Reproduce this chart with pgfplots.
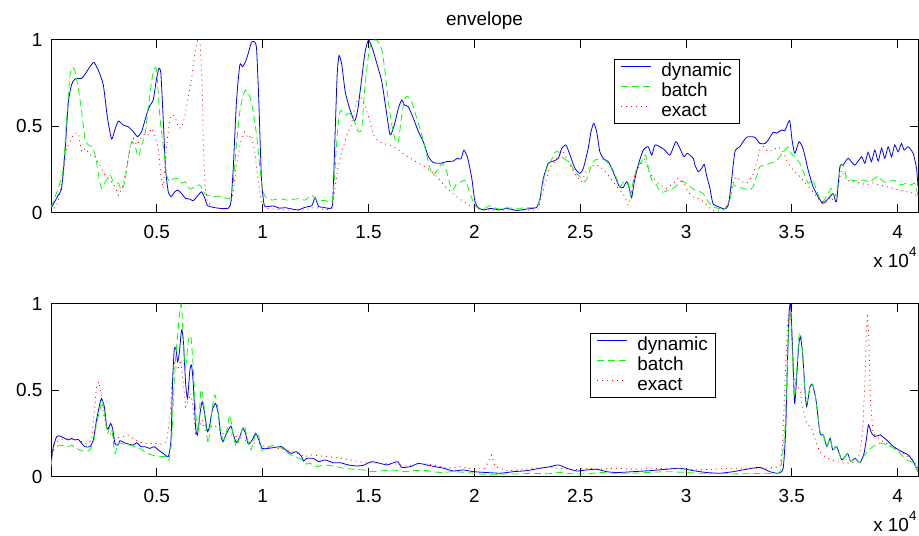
\documentclass[border=0pt]{standalone}
\usepackage{pgfplots}
\pgfplotsset{compat=1.18}
\usepackage{fontspec}
\setmainfont{Liberation Sans}
\newcommand{\fs}{\fontsize{19}{22}\selectfont}

\pgfplotstableread{
x y
0 0.024
0.034 0.10
0.05 0.14
0.066 0.35
0.082 0.64
0.097 0.74
0.113 0.774
0.145 0.778
0.16 0.80
0.184 0.845
0.203 0.87
0.223 0.826
0.247 0.74
0.267 0.546
0.286 0.426
0.299 0.468
0.318 0.53
0.341 0.507
0.365 0.497
0.389 0.468
0.409 0.44
0.428 0.468
0.451 0.565
0.467 0.62
0.483 0.652
0.499 0.778
0.51 0.836
0.519 0.807
0.53 0.546
0.541 0.256
0.554 0.12
0.567 0.092
0.585 0.12
0.60 0.13
0.617 0.11
0.636 0.082
0.656 0.078
0.672 0.068
0.695 0.10
0.711 0.12
0.727 0.082
0.739 0.04
0.766 0.03
0.798 0.024
0.837 0.024
0.85 0.063
0.861 0.256
0.876 0.64
0.892 0.855
0.905 0.845
0.919 0.874
0.932 0.923
0.947 0.987
0.96 0.99
0.971 0.952
0.982 0.64
0.994 0.20
1.007 0.043
1.023 0.034
1.05 0.038
1.08 0.025
1.106 0.028
1.14 0.02
1.169 0.015
1.2 0.03
1.232 0.04
1.248 0.086
1.264 0.035
1.287 0.03
1.319 0.024
1.331 0.06
1.342 0.45
1.352 0.80
1.361 0.91
1.374 0.855
1.39 0.70
1.413 0.594
1.434 0.53
1.449 0.594
1.468 0.778
1.484 0.932
1.5 1.0
1.518 0.952
1.539 0.865
1.563 0.758
1.582 0.604
1.602 0.45
1.622 0.507
1.641 0.604
1.657 0.652
1.67 0.623
1.688 0.613
1.712 0.546
1.736 0.468
1.759 0.41
1.783 0.323
1.806 0.29
1.838 0.285
1.87 0.295
1.9 0.298
1.92 0.314
1.937 0.31
1.951 0.362
1.969 0.314
1.988 0.198
2.003 0.063
2.022 0.024
2.05 0.015
2.074 0.024
2.121 0.015
2.153 0.024
2.2 0.012
2.247 0.02
2.295 0.03
2.31 0.082
2.326 0.198
2.349 0.285
2.373 0.298
2.397 0.314
2.413 0.372
2.433 0.391
2.452 0.333
2.475 0.256
2.499 0.227
2.515 0.256
2.538 0.372
2.551 0.468
2.564 0.517
2.578 0.468
2.593 0.352
2.612 0.31
2.633 0.295
2.656 0.236
2.685 0.15
2.703 0.145
2.72 0.179
2.732 0.14
2.743 0.086
2.756 0.179
2.774 0.275
2.798 0.362
2.821 0.381
2.838 0.333
2.853 0.391
2.877 0.381
2.90 0.362
2.924 0.333
2.952 0.41
2.971 0.372
2.99 0.323
3.006 0.343
3.034 0.314
3.042 0.275
3.058 0.236
3.074 0.256
3.086 0.279
3.097 0.217
3.113 0.14
3.128 0.05
3.16 0.03
3.184 0.02
3.2 0.043
3.212 0.15
3.231 0.352
3.254 0.381
3.286 0.436
3.325 0.436
3.349 0.40
3.373 0.40
3.388 0.42
3.412 0.465
3.428 0.46
3.451 0.478
3.467 0.474
3.478 0.507
3.49 0.532
3.501 0.42
3.514 0.343
3.534 0.41
3.553 0.37
3.577 0.246
3.60 0.15
3.624 0.092
3.645 0.053
3.664 0.07
3.68 0.092
3.695 0.11
3.711 0.062
3.727 0.266
3.742 0.275
3.766 0.314
3.797 0.275
3.829 0.323
3.845 0.285
3.86 0.349
3.876 0.295
3.892 0.362
3.908 0.298
3.924 0.372
3.939 0.314
3.955 0.381
3.971 0.323
3.986 0.391
4.002 0.352
4.018 0.40
4.03 0.362
4.049 0.381
4.073 0.343
4.089 0.256
4.096 0.15
}\topdyn

\pgfplotstableread{
x y
0 0.03
0.034 0.14
0.058 0.256
0.074 0.546
0.09 0.80
0.102 0.842
0.113 0.82
0.129 0.72
0.145 0.584
0.16 0.43
0.176 0.391
0.195 0.381
0.212 0.314
0.227 0.198
0.239 0.14
0.258 0.179
0.279 0.217
0.294 0.179
0.318 0.17
0.333 0.13
0.349 0.179
0.365 0.314
0.381 0.41
0.40 0.372
0.412 0.323
0.428 0.391
0.444 0.45
0.459 0.604
0.475 0.758
0.488 0.836
0.499 0.82
0.515 0.546
0.53 0.391
0.546 0.217
0.562 0.179
0.582 0.198
0.60 0.195
0.617 0.17
0.633 0.179
0.656 0.136
0.68 0.15
0.703 0.16
0.727 0.11
0.758 0.092
0.79 0.095
0.813 0.088
0.845 0.082
0.861 0.179
0.876 0.391
0.892 0.584
0.908 0.681
0.919 0.71
0.94 0.67
0.955 0.584
0.971 0.45
0.987 0.256
1.002 0.12
1.018 0.085
1.043 0.072
1.083 0.08
1.114 0.072
1.169 0.08
1.2 0.072
1.232 0.10
1.256 0.072
1.295 0.07
1.327 0.063
1.339 0.198
1.352 0.45
1.366 0.59
1.39 0.565
1.413 0.575
1.434 0.526
1.452 0.468
1.468 0.49
1.484 0.74
1.5 0.913
1.515 0.99
1.539 1.0
1.563 0.942
1.578 0.816
1.594 0.642
1.61 0.507
1.629 0.41
1.641 0.41
1.657 0.565
1.673 0.666
1.688 0.67
1.704 0.642
1.728 0.546
1.752 0.45
1.775 0.333
1.79 0.256
1.806 0.217
1.83 0.256
1.851 0.285
1.87 0.236
1.885 0.16
1.9 0.13
1.917 0.17
1.94 0.179
1.956 0.188
1.972 0.14
1.988 0.082
2.011 0.03
2.05 0.024
2.074 0.04
2.113 0.02
2.153 0.027
2.2 0.024
2.247 0.027
2.287 0.03
2.307 0.063
2.326 0.179
2.342 0.256
2.361 0.295
2.381 0.349
2.397 0.352
2.413 0.323
2.433 0.304
2.452 0.285
2.475 0.236
2.499 0.207
2.523 0.179
2.538 0.217
2.554 0.275
2.57 0.304
2.593 0.31
2.617 0.304
2.64 0.275
2.656 0.246
2.672 0.198
2.688 0.15
2.707 0.179
2.727 0.17
2.738 0.10
2.75 0.179
2.767 0.256
2.79 0.295
2.809 0.333
2.821 0.266
2.838 0.188
2.861 0.16
2.877 0.12
2.90 0.12
2.924 0.136
2.948 0.145
2.971 0.179
2.995 0.175
3.018 0.15
3.042 0.13
3.066 0.12
3.081 0.11
3.105 0.063
3.126 0.034
3.152 0.024
3.184 0.024
3.207 0.07
3.223 0.16
3.239 0.15
3.27 0.14
3.30 0.13
3.317 0.15
3.333 0.208
3.349 0.266
3.373 0.275
3.396 0.285
3.42 0.295
3.443 0.323
3.467 0.36
3.482 0.38
3.498 0.34
3.514 0.323
3.538 0.285
3.557 0.227
3.577 0.17
3.6 0.188
3.616 0.13
3.632 0.082
3.648 0.063
3.671 0.11
3.687 0.14
3.703 0.092
3.718 0.16
3.73 0.266
3.742 0.275
3.758 0.208
3.781 0.188
3.805 0.184
3.836 0.188
3.868 0.178
3.892 0.198
3.907 0.21
3.923 0.188
3.946 0.174
3.978 0.188
3.994 0.178
4.018 0.16
4.041 0.17
4.065 0.16
4.081 0.17
4.096 0.093
}\topbat

\pgfplotstableread{
x y
0 0.0
0.034 0.06
0.058 0.217
0.074 0.372
0.09 0.41
0.11 0.459
0.129 0.459
0.145 0.352
0.164 0.372
0.184 0.333
0.208 0.323
0.231 0.275
0.255 0.217
0.279 0.188
0.302 0.15
0.318 0.10
0.337 0.14
0.357 0.256
0.373 0.372
0.389 0.43
0.405 0.391
0.425 0.43
0.444 0.459
0.459 0.45
0.475 0.488
0.49 0.45
0.507 0.372
0.519 0.217
0.53 0.14
0.546 0.391
0.562 0.546
0.573 0.565
0.585 0.56
0.60 0.497
0.617 0.488
0.63 0.546
0.648 0.662
0.667 0.80
0.68 0.932
0.692 0.994
0.705 0.97
0.714 0.74
0.72 0.391
0.727 0.16
0.739 0.06
0.766 0.03
0.806 0.02
0.845 0.024
0.861 0.12
0.876 0.275
0.896 0.41
0.915 0.468
0.932 0.43
0.947 0.45
0.963 0.352
0.979 0.179
0.994 0.06
1.018 0.024
1.1 0.015
1.2 0.015
1.248 0.03
1.3 0.015
1.327 0.024
1.339 0.12
1.355 0.256
1.374 0.352
1.398 0.45
1.418 0.507
1.44 0.632
1.46 0.68
1.484 0.613
1.503 0.546
1.523 0.45
1.547 0.41
1.57 0.40
1.602 0.391
1.633 0.372
1.673 0.333
1.712 0.304
1.752 0.275
1.79 0.246
1.83 0.198
1.87 0.14
1.908 0.10
1.948 0.063
1.988 0.034
2.035 0.015
2.3 0.015
2.31 0.063
2.334 0.16
2.349 0.236
2.365 0.275
2.381 0.295
2.4 0.333
2.42 0.352
2.44 0.304
2.46 0.256
2.483 0.207
2.507 0.179
2.527 0.236
2.546 0.266
2.57 0.275
2.593 0.27
2.625 0.227
2.656 0.179
2.68 0.14
2.703 0.11
2.727 0.043
2.743 0.10
2.758 0.217
2.782 0.275
2.806 0.314
2.821 0.246
2.845 0.198
2.877 0.16
2.908 0.14
2.94 0.17
2.963 0.198
2.987 0.179
3.01 0.12
3.034 0.09
3.058 0.08
3.081 0.065
3.113 0.024
3.137 0.005
3.176 0.015
3.2 0.05
3.215 0.15
3.239 0.208
3.262 0.18
3.286 0.17
3.313 0.208
3.333 0.285
3.349 0.362
3.365 0.381
3.388 0.352
3.412 0.362
3.436 0.381
3.459 0.352
3.482 0.285
3.506 0.246
3.538 0.208
3.57 0.16
3.6 0.12
3.632 0.07
3.656 0.05
3.68 0.09
3.703 0.06
3.718 0.15
3.734 0.246
3.758 0.188
3.789 0.178
3.82 0.172
3.852 0.16
3.883 0.172
3.915 0.16
3.946 0.15
3.978 0.14
4.01 0.13
4.041 0.12
4.073 0.113
4.096 0.09
}\topexa

\pgfplotstableread{
x y
0 0.076
0.011 0.173
0.027 0.231
0.042 0.235
0.066 0.22
0.082 0.212
0.097 0.22
0.113 0.212
0.129 0.215
0.145 0.192
0.16 0.173
0.184 0.173
0.20 0.212
0.215 0.327
0.231 0.424
0.239 0.453
0.252 0.404
0.263 0.288
0.271 0.279
0.282 0.308
0.291 0.279
0.302 0.192
0.315 0.182
0.326 0.208
0.346 0.196
0.365 0.188
0.389 0.182
0.405 0.196
0.425 0.173
0.444 0.173
0.467 0.163
0.488 0.173
0.507 0.154
0.53 0.134
0.554 0.115
0.567 0.212
0.574 0.54
0.582 0.733
0.59 0.743
0.598 0.665
0.606 0.714
0.617 0.849
0.625 0.791
0.636 0.54
0.645 0.453
0.656 0.617
0.664 0.646
0.672 0.54
0.683 0.288
0.692 0.24
0.703 0.356
0.714 0.433
0.727 0.356
0.739 0.259
0.75 0.298
0.762 0.385
0.777 0.424
0.79 0.366
0.802 0.24
0.813 0.202
0.829 0.25
0.85 0.292
0.862 0.24
0.876 0.196
0.892 0.231
0.906 0.279
0.919 0.25
0.932 0.188
0.951 0.212
0.967 0.25
0.982 0.212
0.998 0.163
1.026 0.163
1.058 0.169
1.09 0.173
1.109 0.154
1.134 0.134
1.16 0.144
1.184 0.115
1.193 0.09
1.208 0.105
1.24 0.105
1.264 0.086
1.295 0.096
1.334 0.08
1.366 0.08
1.405 0.067
1.445 0.061
1.476 0.065
1.515 0.086
1.555 0.076
1.586 0.067
1.61 0.076
1.638 0.086
1.657 0.053
1.697 0.057
1.736 0.076
1.775 0.067
1.815 0.057
1.854 0.048
1.901 0.032
1.948 0.038
1.996 0.028
2.059 0.023
2.122 0.019
2.185 0.028
2.248 0.034
2.311 0.048
2.358 0.057
2.397 0.067
2.436 0.048
2.484 0.032
2.531 0.038
2.578 0.042
2.625 0.028
2.673 0.023
2.75 0.028
2.83 0.034
2.908 0.042
2.971 0.048
3.034 0.034
3.097 0.023
3.16 0.019
3.223 0.028
3.286 0.042
3.349 0.053
3.396 0.028
3.436 0.019
3.459 0.048
3.471 0.27
3.479 0.657
3.487 0.946
3.494 1.0
3.503 0.753
3.513 0.425
3.522 0.56
3.532 0.753
3.54 0.811
3.551 0.714
3.562 0.502
3.57 0.405
3.586 0.521
3.598 0.531
3.614 0.444
3.633 0.251
3.649 0.241
3.665 0.174
3.681 0.222
3.693 0.154
3.712 0.174
3.736 0.096
3.763 0.134
3.778 0.086
3.799 0.105
3.822 0.08
3.841 0.134
3.854 0.232
3.862 0.299
3.877 0.251
3.893 0.232
3.917 0.241
3.948 0.212
3.98 0.174
4.019 0.144
4.05 0.125
4.074 0.086
4.096 0.028
}\botdyn

\pgfplotstableread{
x y
0 0.057
0.011 0.154
0.027 0.173
0.042 0.182
0.082 0.173
0.097 0.182
0.121 0.163
0.16 0.144
0.184 0.154
0.203 0.212
0.215 0.308
0.231 0.385
0.242 0.443
0.255 0.347
0.267 0.25
0.279 0.288
0.29 0.25
0.302 0.134
0.318 0.192
0.342 0.188
0.373 0.182
0.396 0.173
0.42 0.163
0.444 0.144
0.475 0.125
0.507 0.115
0.538 0.115
0.557 0.096
0.57 0.212
0.578 0.443
0.589 0.694
0.598 0.81
0.609 0.965
0.617 0.994
0.625 0.791
0.636 0.636
0.649 0.791
0.661 0.81
0.672 0.636
0.683 0.385
0.695 0.25
0.708 0.501
0.719 0.453
0.73 0.308
0.743 0.192
0.758 0.366
0.774 0.472
0.787 0.404
0.802 0.25
0.818 0.212
0.834 0.288
0.845 0.356
0.861 0.24
0.876 0.173
0.897 0.25
0.913 0.298
0.929 0.212
0.945 0.154
0.963 0.231
0.979 0.25
0.995 0.154
1.018 0.163
1.05 0.182
1.074 0.173
1.097 0.158
1.121 0.134
1.153 0.115
1.184 0.099
1.208 0.072
1.224 0.076
1.256 0.057
1.287 0.067
1.334 0.061
1.382 0.048
1.43 0.042
1.476 0.038
1.523 0.028
1.57 0.034
1.617 0.038
1.665 0.028
1.712 0.034
1.775 0.034
1.838 0.023
1.901 0.028
1.964 0.023
2.027 0.015
2.09 0.01
2.153 0.015
2.216 0.015
2.279 0.019
2.342 0.015
2.405 0.023
2.468 0.015
2.531 0.015
2.594 0.023
2.657 0.019
2.75 0.019
2.908 0.028
3.066 0.019
3.223 0.015
3.38 0.019
3.443 0.028
3.467 0.27
3.482 0.753
3.49 0.955
3.498 0.849
3.511 0.463
3.522 0.598
3.535 0.83
3.546 0.791
3.558 0.56
3.57 0.425
3.586 0.521
3.598 0.537
3.614 0.444
3.633 0.26
3.649 0.241
3.665 0.174
3.681 0.222
3.693 0.154
3.712 0.174
3.736 0.096
3.763 0.134
3.778 0.086
3.799 0.105
3.822 0.08
3.841 0.12
3.86 0.15
3.885 0.174
3.917 0.193
3.948 0.183
3.98 0.164
4.011 0.135
4.042 0.096
4.074 0.08
4.096 0.028
}\botbat

\pgfplotstableread{
x y
0 0.096
0.019 0.192
0.042 0.215
0.082 0.22
0.129 0.212
0.168 0.188
0.192 0.212
0.204 0.366
0.215 0.52
0.226 0.549
0.236 0.482
0.247 0.366
0.263 0.288
0.279 0.25
0.302 0.22
0.334 0.231
0.365 0.24
0.396 0.212
0.428 0.196
0.459 0.192
0.491 0.192
0.522 0.188
0.546 0.202
0.562 0.347
0.573 0.579
0.585 0.656
0.60 0.617
0.613 0.675
0.625 0.54
0.636 0.404
0.649 0.443
0.661 0.482
0.672 0.385
0.683 0.25
0.698 0.288
0.714 0.327
0.73 0.259
0.75 0.288
0.77 0.298
0.79 0.279
0.813 0.25
0.837 0.259
0.861 0.234
0.884 0.231
0.916 0.212
0.948 0.192
0.979 0.196
1.01 0.173
1.042 0.173
1.074 0.163
1.105 0.158
1.137 0.144
1.168 0.134
1.2 0.115
1.224 0.125
1.271 0.12
1.318 0.115
1.366 0.105
1.413 0.096
1.46 0.086
1.507 0.08
1.57 0.076
1.633 0.072
1.68 0.061
1.744 0.076
1.807 0.067
1.87 0.048
1.932 0.057
1.996 0.042
2.051 0.048
2.066 0.086
2.082 0.125
2.098 0.057
2.153 0.034
2.216 0.038
2.279 0.048
2.342 0.053
2.405 0.048
2.468 0.038
2.531 0.048
2.594 0.042
2.657 0.048
2.75 0.042
2.908 0.048
3.066 0.038
3.223 0.048
3.38 0.048
3.443 0.057
3.456 0.174
3.468 0.56
3.478 0.849
3.487 0.965
3.497 0.907
3.506 0.657
3.514 0.54
3.538 0.502
3.553 0.386
3.569 0.309
3.593 0.28
3.617 0.192
3.632 0.144
3.656 0.115
3.679 0.10
3.711 0.086
3.758 0.076
3.805 0.086
3.821 0.134
3.834 0.25
3.845 0.54
3.853 0.868
3.857 0.946
3.864 0.791
3.871 0.443
3.884 0.25
3.9 0.231
3.931 0.202
3.978 0.173
4.026 0.134
4.073 0.096
4.096 0.047
}\botexa

\pgfplotsset{
  myax/.style={
    scale only axis, width=867bp, height=172.5bp,
    xmin=0, xmax=4.096, ymin=0, ymax=1,
    xtick={0.5,1,1.5,2,2.5,3,3.5,4},
    xticklabels={0.5,1,1.5,2,2.5,3,3.5,4},
    ytick={0,0.5,1}, yticklabels={0,0.5,1},
    /pgf/number format/assume math mode=true,
    tick align=inside, major tick length=8bp,
    axis line style={line width=1bp},
    every tick/.style={black, line width=1bp},
    tick label style={font=\fs},
    xticklabel style={yshift=-9bp},
    yticklabel style={xshift=-5bp},
    legend cell align=left,
    legend style={anchor=north west, draw=black, font=\fs,
      inner xsep=6bp, inner ysep=2bp, row sep=0bp,
      nodes={inner sep=1bp, text height=14.5bp, text depth=3.5bp},
      /tikz/every odd column/.append style={column sep=9bp}},
  },
  dyn/.style={color=blue, line width=0.8bp, smooth, tension=0.35,
    legend image code/.code={\draw[blue, line width=1.1bp] (0bp,5bp) -- (30bp,5bp);}},
  bat/.style={color=green, line width=0.8bp, dash pattern=on 7bp off 4bp, smooth, tension=0.35,
    legend image code/.code={\draw[green, line width=1.1bp, dash pattern=on 7bp off 4bp] (0bp,5bp) -- (30bp,5bp);}},
  exa/.style={color=red, line width=0.8bp, dash pattern=on 1bp off 4bp,
    legend image code/.code={\draw[red, line width=1.1bp, dash pattern=on 1bp off 4bp] (0bp,5bp) -- (30bp,5bp);}},
}

\begin{document}
\begin{tikzpicture}
\useasboundingbox (0,0) rectangle (919bp,536bp);
\begin{axis}[myax, at={(51bp,323.5bp)}, anchor=south west,
  legend style={at={(0.6494,0.8900)}}]
\addplot[dyn] table[x=x,y=y] {\topdyn};
\addplot[bat] table[x=x,y=y] {\topbat};
\addplot[exa] table[x=x,y=y] {\topexa};
\legend{dynamic,batch,exact}
\end{axis}
\begin{axis}[myax, at={(51bp,59.5bp)}, anchor=south west,
  legend style={at={(0.6217,0.8319)}}]
\addplot[dyn] table[x=x,y=y] {\botdyn};
\addplot[bat] table[x=x,y=y] {\botbat};
\addplot[exa] table[x=x,y=y] {\botexa};
\legend{dynamic,batch,exact}
\end{axis}
\node[anchor=base, font=\fs, inner sep=0pt] at (484.5bp,510.5bp) {envelope};
\node[anchor=base east, font=\fs, inner sep=0pt] at (916.7bp,268.3bp) {x 10\raisebox{11bp}{\fontsize{13.5}{14}\selectfont 4}};
\node[anchor=base east, font=\fs, inner sep=0pt] at (916.7bp,4.3bp) {x 10\raisebox{11bp}{\fontsize{13.5}{14}\selectfont 4}};
\end{tikzpicture}
\end{document}
